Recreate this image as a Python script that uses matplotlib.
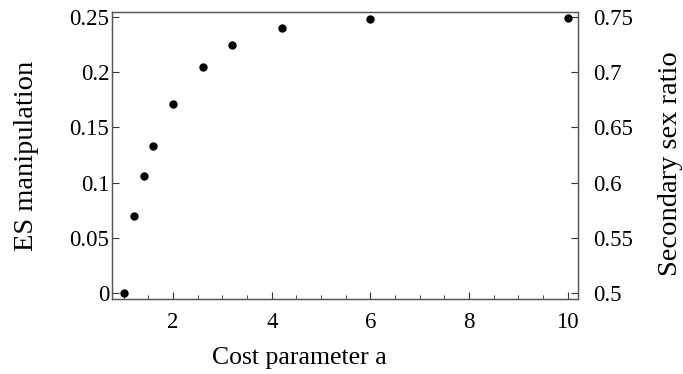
import matplotlib
matplotlib.use("Agg")
import matplotlib.pyplot as plt
from matplotlib.ticker import MultipleLocator

cost_a = [1, 1.2, 1.4, 1.6, 2, 2.6, 3.2, 4.2, 6, 10]
es_manip = [0.0, 0.0697, 0.1063, 0.1333, 0.1711, 0.2053, 0.225, 0.2407, 0.2483, 0.2492]
left_ticks = [0, 0.05, 0.1, 0.15, 0.2, 0.25]
left_labels = ["0", "0.05", "0.1", "0.15", "0.2", "0.25"]
right_labels = ["0.5", "0.55", "0.6", "0.65", "0.7", "0.75"]
x_ticks = [2, 4, 6, 8, 10]

plt.rcParams['font.family'] = ['Liberation Serif', 'DejaVu Serif']
fig = plt.figure(figsize=(6.83, 3.74), dpi=100)
ax = fig.add_axes([112/683, 1-299/374, (578-112)/683, (299-12)/374])
ax.plot(cost_a, es_manip, 'o', color='black', markersize=5)
ax.set_xlim(0.76, 10.21)
ax.set_ylim(-0.0057, 0.2548)
ax.set_xticks(x_ticks)
ax.set_xticklabels([str(t) for t in x_ticks])
ax.xaxis.set_minor_locator(MultipleLocator(0.5))
ax.set_yticks(left_ticks)
ax.set_yticklabels(left_labels)
ax.tick_params(axis='both', which='major', direction='in', length=5, width=0.8, labelsize=16.5, colors='#333333', labelcolor='black')
ax.tick_params(axis='x', which='minor', direction='in', length=3, width=0.6, colors='#333333')
ax.tick_params(axis='x', pad=9)
ax.tick_params(axis='y', pad=2)
for s in ax.spines.values():
    s.set_color('#555555')
    s.set_linewidth(0.9)
ax.set_xlabel("Cost parameter a", fontsize=18.5, va='center', ha='center')
ax.set_ylabel("ES manipulation", fontsize=20.5, va='center', ha='center')
ax.xaxis.set_label_coords(0.403, -0.205)
ax.yaxis.set_label_coords(-0.183, 0.5)

ax2 = ax.twinx()
ax2.set_ylim(ax.get_ylim())
ax2.set_yticks(left_ticks)
ax2.set_yticklabels(right_labels)
ax2.tick_params(axis='y', direction='in', length=5, width=0.8, labelsize=16.5, pad=11, colors='#333333', labelcolor='black')
for s in ax2.spines.values():
    s.set_color('#555555')
    s.set_linewidth(0.9)
ax2.set_ylabel("Secondary sex ratio", fontsize=20.5, va='center', ha='center')
ax2.yaxis.set_label_coords(1.198, 0.47)

fig.savefig("out.png", dpi=100)
